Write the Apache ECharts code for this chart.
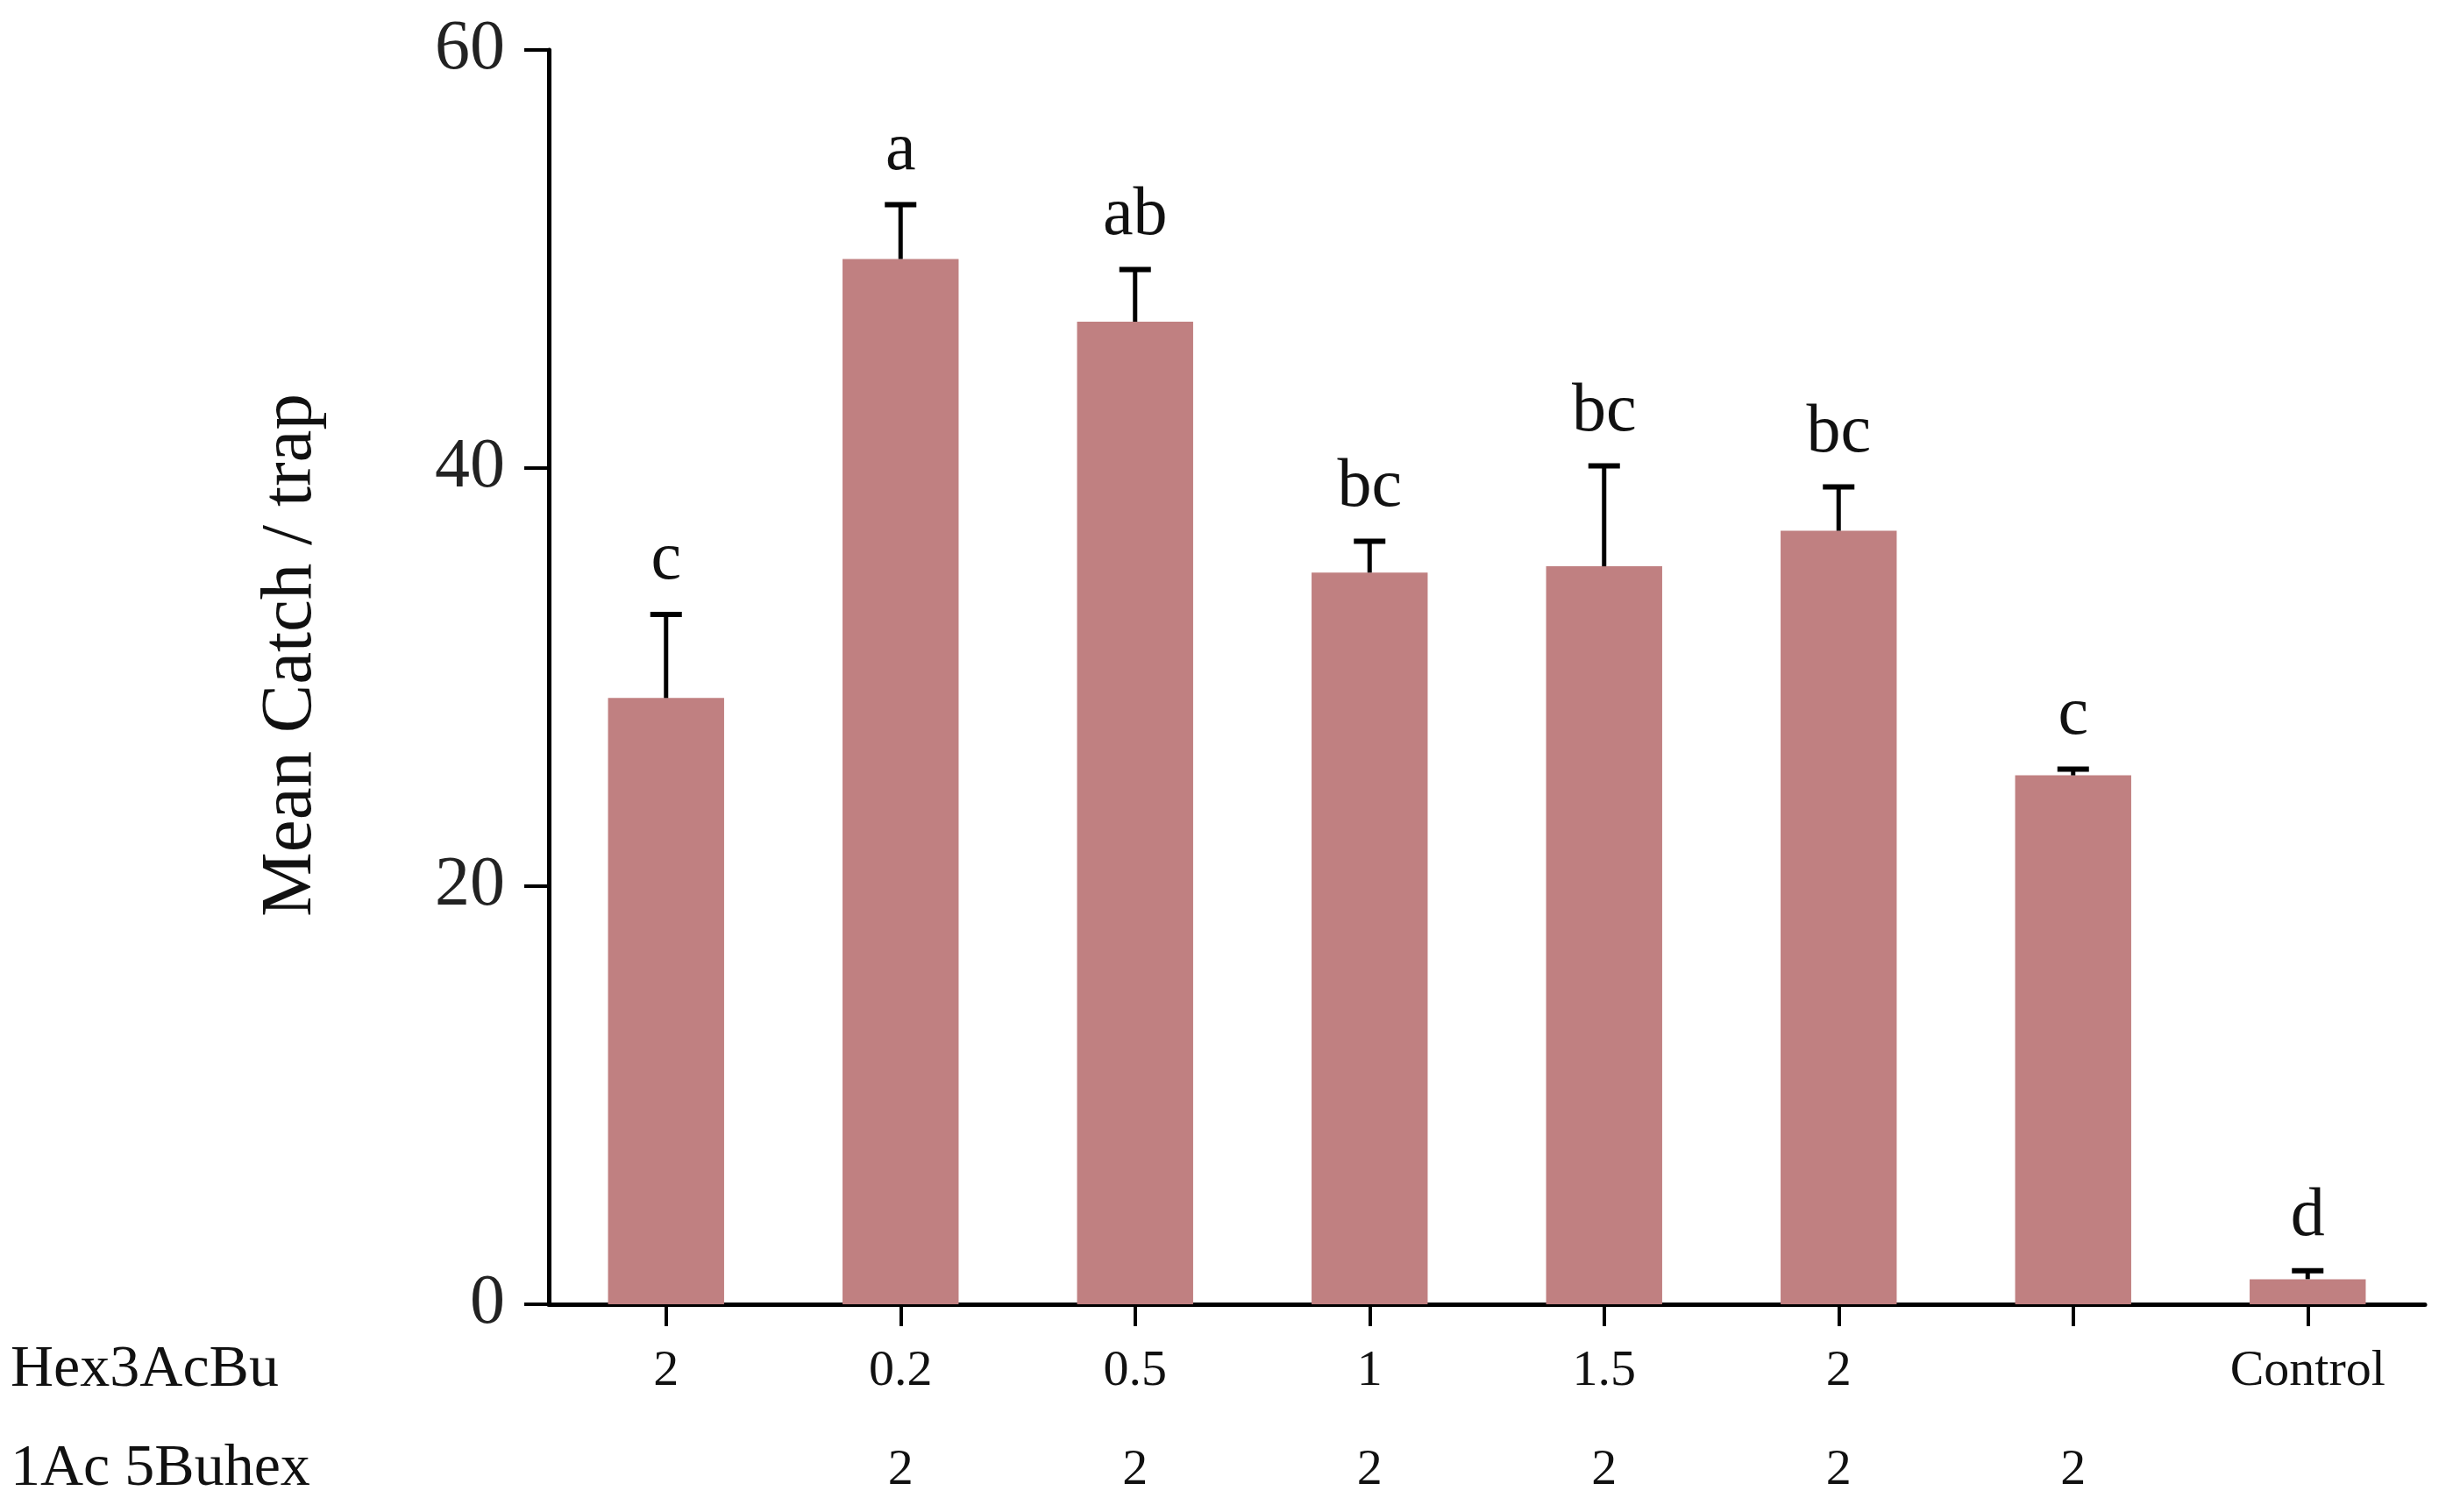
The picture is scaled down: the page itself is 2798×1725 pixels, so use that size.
<!DOCTYPE html>
<html><head><meta charset="utf-8">
<script src="https://cdn.jsdelivr.net/npm/echarts@6/dist/echarts.min.js"></script>
<style>html,body{margin:0;padding:0;background:#fff}#c{width:2798px;height:1725px}</style>
</head><body><div id="c"></div>
<script>
const hexLabels = ['2', '0.2', '0.5', '1', '1.5', '2', '', 'Control'];
const buhexLabels = ['', '2', '2', '2', '2', '2', '2', ''];
const means = [29, 50, 47, 35, 35.3, 37, 25.3, 1.2];
const errors = [4, 2.6, 2.5, 1.5, 4.8, 2.1, 0.3, 0.4];
const letters = ['c', 'a', 'ab', 'bc', 'bc', 'bc', 'c', 'd'];
const yTicks = [0, 20, 40, 60];
const rowTitles = ['Hex3AcBu', '1Ac 5Buhex'];

const FONT = '"Liberation Serif", "Times New Roman", serif';
const categories = hexLabels.map((_, i) => 'g' + i);

const chart = echarts.init(document.getElementById('c'), null, {renderer: 'canvas'});
chart.setOption({
  backgroundColor: '#fff',
  animation: false,
  grid: {left: 626, right: 32, top: 57, bottom: 237, containLabel: false, outerBoundsMode: 'none'},
  xAxis: {
    type: 'category',
    data: categories,
    boundaryGap: true,
    axisLine: {lineStyle: {color: '#000', width: 5}},
    axisTick: {show: true, alignWithLabel: true, length: 25, lineStyle: {color: '#000', width: 4}},
    axisLabel: {
      interval: 0,
      margin: 20,
      fontFamily: FONT, fontSize: 58, color: '#111', lineHeight: 113,
      formatter: (v, i) => (hexLabels[i] || ' ') + '\n' + (buhexLabels[i] || ' ')
    },
    splitLine: {show: false}
  },
  yAxis: {
    type: 'value',
    min: yTicks[0], max: yTicks[yTicks.length - 1], interval: 20,
    name: 'Mean Catch / trap',
    nameLocation: 'middle', nameRotate: 90, nameGap: 252,
    nameTextStyle: {fontFamily: FONT, fontSize: 83, color: '#111', padding: [0, 0, 0, 50]},
    axisLine: {show: true, lineStyle: {color: '#000', width: 5}},
    axisTick: {show: true, length: 28, lineStyle: {color: '#000', width: 4}},
    axisLabel: {margin: 50, fontFamily: FONT, fontSize: 80, color: '#222'},
    splitLine: {show: false}
  },
  graphic: rowTitles.map((t, k) => ({
    type: 'text', left: 12, top: 1529 + k * 113,
    style: {text: t, fontFamily: FONT, fontSize: 68, fill: '#111'}
  })),
  series: [
    {
      type: 'bar',
      data: means,
      barWidth: '49.5%',
      itemStyle: {color: '#C08081'}
    },
    {
      type: 'custom',
      data: means.map((m, i) => [i, m, errors[i]]),
      z: 5,
      renderItem: function (params, api) {
        const i = api.value(0);
        const m = api.value(1);
        const e = api.value(2);
        const base = api.coord([i, m]);
        const top = api.coord([i, m + e]);
        const half = 18;
        return {
          type: 'group',
          children: [
            {type: 'line', shape: {x1: base[0], y1: base[1], x2: top[0], y2: top[1]}, style: {stroke: '#000', lineWidth: 5}},
            {type: 'line', shape: {x1: top[0] - half, y1: top[1], x2: top[0] + half, y2: top[1]}, style: {stroke: '#000', lineWidth: 6}},
            {type: 'text', x: top[0], y: top[1] - 22, style: {text: letters[i], fontFamily: FONT, fontSize: 78, fill: '#111', align: 'center', verticalAlign: 'bottom'}}
          ]
        };
      }
    }
  ]
});
</script></body></html>
